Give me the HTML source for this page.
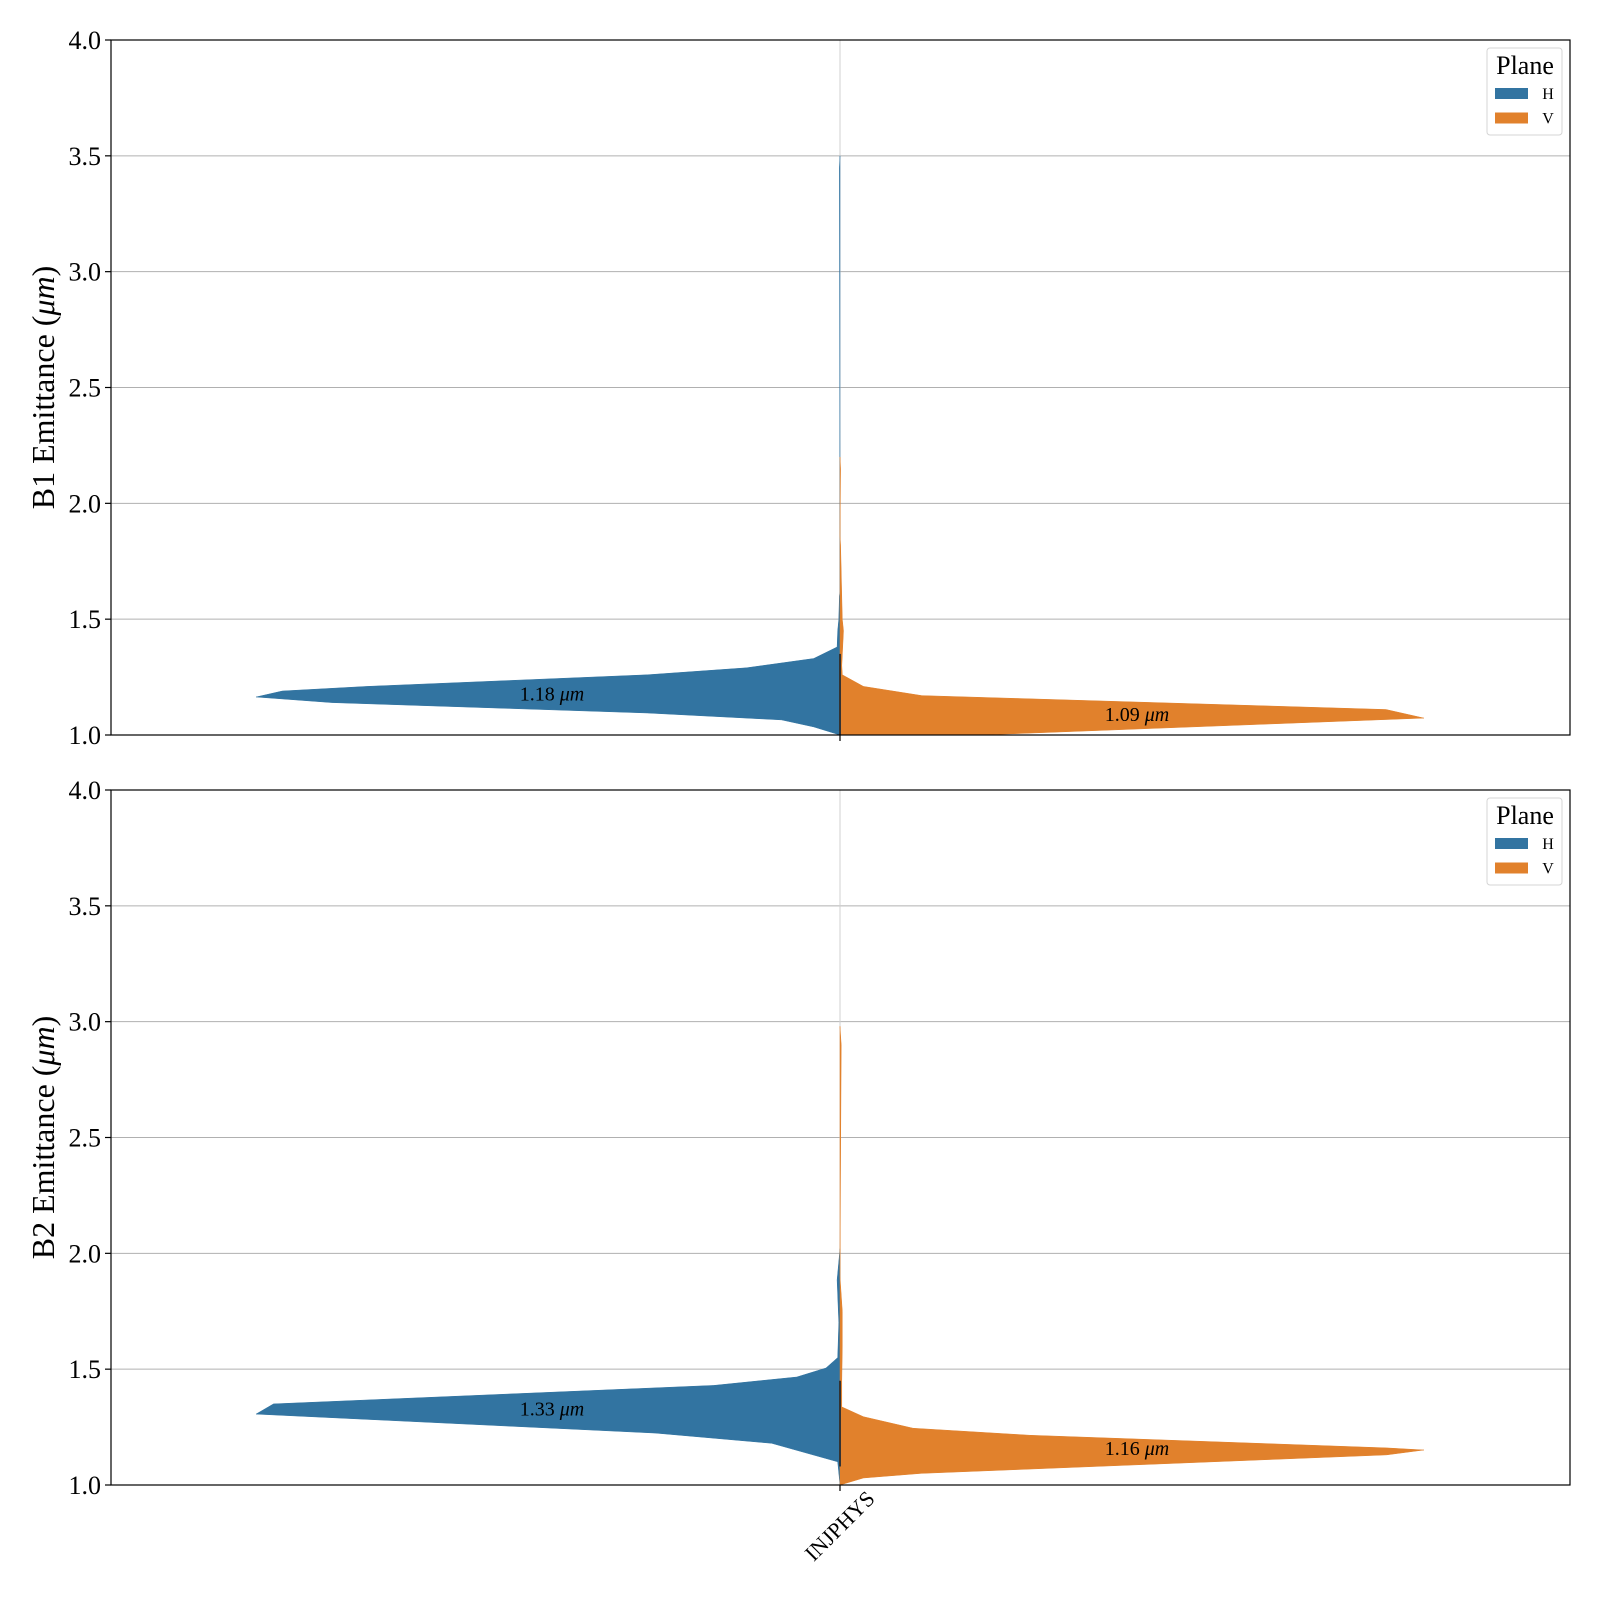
<!DOCTYPE html>
<html><head><meta charset="utf-8"><style>
html,body{margin:0;padding:0;background:#fff;}
svg{display:block;font-family:"Liberation Serif","DejaVu Serif",serif;}
</style></head><body>
<svg id="chart" width="1600" height="1600" viewBox="0 0 1600 1600" xmlns="http://www.w3.org/2000/svg"></svg>
<script>
// ---- data ----
const categories = ["INJPHYS"];
const yTicks = [1.0, 1.5, 2.0, 2.5, 3.0, 3.5, 4.0];
const panelNames = ["B1", "B2"];
// violin profiles: value (µm) and relative density (0..1)
const b1H_values = [3.5, 3.45, 1.62, 1.6, 1.5, 1.45, 1.38, 1.33, 1.29, 1.26, 1.21, 1.19, 1.164, 1.14, 1.095, 1.065, 1.035, 1.0];
const b1H_density = [0, 0.001, 0, 0.001, 0.002, 0.004, 0.005, 0.045, 0.16, 0.33, 0.81, 0.955, 1.0, 0.87, 0.33, 0.1, 0.045, 0];
const b1V_values = [2.2, 2.15, 1.86, 1.82, 1.5, 1.45, 1.3, 1.26, 1.21, 1.17, 1.11, 1.073, 1.0, 1.0];
const b1V_density = [0, 0.001, 0, 0.001, 0.004, 0.006, 0.003, 0.004, 0.04, 0.14, 0.935, 1.0, 0.24, 0];
const b2H_values = [2.02, 1.885, 1.7, 1.55, 1.505, 1.466, 1.43, 1.35, 1.306, 1.224, 1.18, 1.1, 1.0];
const b2H_density = [0, 0.005, 0.002, 0.004, 0.024, 0.074, 0.216, 0.97, 1.0, 0.316, 0.117, 0.004, 0];
const b2V_values = [2.98, 2.9, 1.9, 1.75, 1.6, 1.45, 1.337, 1.295, 1.245, 1.215, 1.16, 1.151, 1.13, 1.05, 1.03, 1.0];
const b2V_density = [0, 0.002, 0, 0.004, 0.004, 0.003, 0.003, 0.04, 0.125, 0.324, 0.936, 1.0, 0.936, 0.139, 0.04, 0];
const b1Medians = [1.18, 1.09];
const b2Medians = [1.33, 1.16];
const legendLabels = ["H", "V"];
// ---- layout ----
const NS = "http://www.w3.org/2000/svg";
const svg = document.getElementById("chart");
const X0 = 111, X1 = 1570, CX = 840, HALF = 584;
const panels = [{top: 40, bot: 735}, {top: 790, bot: 1485}];
const colors = ["#3274a1", "#e1812c"];
function mk(tag, attrs, parent) {
  const e = document.createElementNS(NS, tag);
  for (const k in attrs) e.setAttribute(k, attrs[k]);
  (parent || svg).appendChild(e);
  return e;
}
function yScale(p, v) { return p.bot - (v - 1.0) / 3.0 * (p.bot - p.top); }
const allData = [
  [[b1H_values, b1H_density], [b1V_values, b1V_density], b1Medians],
  [[b2H_values, b2H_density], [b2V_values, b2V_density], b2Medians]
];
panels.forEach((p, pi) => {
  const g = mk("g", {});
  
  
  yTicks.forEach(t => {
    const y = yScale(p, t);
    if (t > 1.0 && t < 4.0) {
      const gl = mk("line", {x1: X0, x2: X1, y1: y, y2: y, stroke: "#b0b0b0", "stroke-width": 1}, g);
      
      
    }
    const tk = mk("line", {x1: X0 - 6, x2: X0, y1: y, y2: y, stroke: "#000", "stroke-width": 1.2}, g);
    
    
    const tl = mk("text", {x: X0 - 10, y: y + 9, "text-anchor": "end", "font-size": 26}, g);
    tl.textContent = t.toFixed(1);
    
    
  });
  const vg = mk("line", {x1: CX, x2: CX, y1: p.top, y2: p.bot, stroke: "#d0d0d0", "stroke-width": 1}, g);
  
  
  const d = allData[pi];
  [0, 1].forEach(side => {
    const vals = d[side][0], dens = d[side][1];
    const sgn = side === 0 ? -1 : 1;
    let pts = [[CX, yScale(p, vals[0])]];
    for (let i = 0; i < vals.length; i++) pts.push([CX + sgn * dens[i] * HALF, yScale(p, vals[i])]);
    pts.push([CX, yScale(p, vals[vals.length - 1])]);
    const poly = mk("polygon", {points: pts.map(q => q[0].toFixed(1) + "," + q[1].toFixed(1)).join(" "), fill: colors[side], stroke: colors[side], "stroke-width": 0.5}, g);
    
    
  });
  const m = d[2];
  const st = mk("line", {x1: CX, x2: CX, y1: yScale(p, pi === 0 ? 1.0 : 1.08), y2: yScale(p, pi === 0 ? 1.35 : 1.45), stroke: "#333", "stroke-width": 2}, g);
  
  
  [0, 1].forEach(side => {
    const lx = side === 0 ? 552 : 1137;
    const t = mk("text", {x: lx, y: yScale(p, m[side]) + 7, "text-anchor": "middle", "font-size": 20}, g);
    t.textContent = m[side].toFixed(2) + " ";
    const ts = mk("tspan", {"font-style": "italic"}, t);
    ts.textContent = "\u03bcm";
    
    
  });
  const fr = mk("rect", {x: X0, y: p.top, width: X1 - X0, height: p.bot - p.top, fill: "none", stroke: "#000", "stroke-width": 1.2}, g);
  
  
  const xt = mk("line", {x1: CX, x2: CX, y1: p.bot, y2: p.bot + 6, stroke: "#000", "stroke-width": 1.2}, g);
  
  
  const yl = mk("text", {x: 0, y: 0, "text-anchor": "middle", "font-size": 32, transform: "translate(54," + ((p.top + p.bot) / 2) + ") rotate(-90)"}, g);
  yl.textContent = panelNames[pi] + " Emittance (";
  const yi = mk("tspan", {"font-style": "italic"}, yl);
  yi.textContent = "\u03bcm";
  const yc = mk("tspan", {}, yl);
  yc.textContent = ")";
  
  
  const lg = mk("g", {transform: "translate(0," + (p.top - 40) + ")"}, g);
  
  
  mk("rect", {x: 1487, y: 48, width: 75, height: 87, rx: 3, fill: "#fff", stroke: "#d5d5d5", "stroke-width": 1}, lg);
  const lt = mk("text", {x: 1525, y: 74, "text-anchor": "middle", "font-size": 26}, lg);
  lt.textContent = "Plane";
  
  
  legendLabels.forEach((lab, i) => {
    const yy = 88 + i * 24.5;
    const r = mk("rect", {x: 1495, y: yy, width: 33, height: 11, fill: colors[i]}, lg);
    
    
    const tx = mk("text", {x: 1548, y: yy + 11, "text-anchor": "middle", "font-size": 16}, lg);
    tx.textContent = lab;
    
    
  });
});
const xl = mk("text", {x: 0, y: 0, "text-anchor": "end", "font-size": 22, transform: "translate(876,1500) rotate(-45)"});
xl.textContent = categories[0];


</script>
</body></html>
